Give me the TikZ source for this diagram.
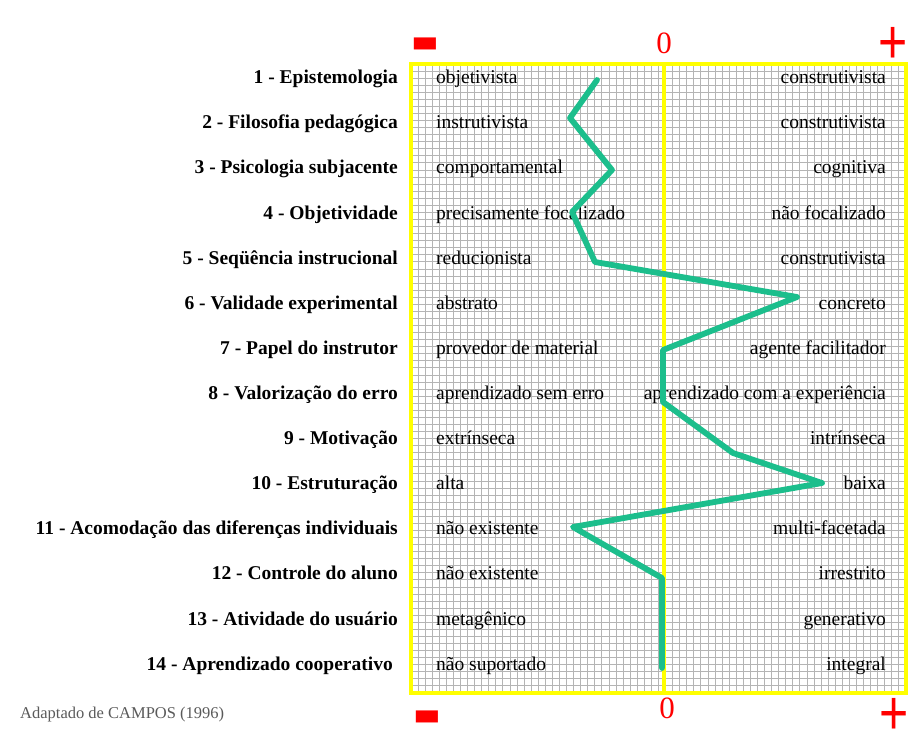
\documentclass[tikz,border=0pt]{standalone}
\usepackage{fontspec}
\setmainfont{Liberation Serif}
\newfontfamily\symfont{Liberation Sans}
\definecolor{curve}{RGB}{28,190,140}
\definecolor{gridc}{RGB}{180,180,180}
\definecolor{yel}{RGB}{255,255,0}
\definecolor{srcc}{RGB}{90,90,90}
\newcommand{\heavyminus}{\raisebox{-31.5pt}[9.5pt][0.5pt]{\scalebox{1}[2.5]{−}}}
\begin{document}
\begin{tikzpicture}[x=1pt,y=-1pt,
  lab/.style={anchor=mid east, inner sep=0pt, font=\fontsize{19.5}{20}\selectfont\bfseries},
  lefttxt/.style={anchor=mid west, inner sep=0pt, font=\fontsize{19.5}{20}\selectfont},
  righttxt/.style={anchor=mid east, inner sep=0pt, font=\fontsize{19.5}{20}\selectfont},
  redsym/.style={inner sep=0pt, text=red},
  gridline/.style={draw=gridc, line width=0.9pt},
  frame/.style={draw=yel, line width=3.5pt},
  zeroline/.style={draw=yel, line width=4pt},
  dataline/.style={draw=curve, line width=5.8pt, line join=round, line cap=round}]
\useasboundingbox[fill=white] (0,0) rectangle (909,747);
% grid
\foreach \i in {1,...,69} { \draw[gridline] ({411+\i*7.0714},64) -- ({411+\i*7.0714},693); }
\foreach \j in {1,...,88} { \draw[gridline] (411,{64+\j*7.0674}) -- (906,{64+\j*7.0674}); }
\draw[zeroline] (664,64) -- (664,693);
\draw[frame] (411,64) rectangle (906,693);
% red markers
\node[redsym, font=\symfont\fontsize{44}{44}\selectfont\bfseries] (mtop) at (425,44) {\heavyminus};
\node[redsym, font=\fontsize{31}{31}\selectfont] (ztop) at (664,43) {0};
\node[redsym, font=\symfont\fontsize{50}{50}\selectfont] (ptop) at (893,45) {\scalebox{1}[1.25]{+}};
\node[redsym, font=\symfont\fontsize{44}{44}\selectfont\bfseries] (mbot) at (427,717) {\heavyminus};
\node[redsym, font=\fontsize{31}{31}\selectfont] (zbot) at (667,708) {0};
\node[redsym, font=\symfont\fontsize{50}{50}\selectfont] (pbot) at (894,716) {\scalebox{1}[1.25]{+}};
% rows
\foreach \n/\a/\l/\r [count=\k] in {
 {1 - Epistemologia}/398/objetivista/construtivista,
 {2 - Filosofia pedagógica}/398/instrutivista/construtivista,
 {3 - Psicologia subjacente}/398/comportamental/cognitiva,
 {4 - Objetividade}/398/{precisamente focalizado}/{não focalizado},
 {5 - Seqüência instrucional}/398/reducionista/construtivista,
 {6 - Validade experimental}/398/abstrato/concreto,
 {7 - Papel do instrutor}/398/{provedor de material}/{agente facilitador},
 {8 - Valorização do erro}/398/{aprendizado sem erro}/{aprendizado com a experiência},
 {9 - Motivação}/398/extrínseca/intrínseca,
 {10 - Estruturação}/398/alta/baixa,
 {11 - Acomodação das diferenças individuais}/398/{não existente}/multi-facetada,
 {12 - Controle do aluno}/398/{não existente}/irrestrito,
 {13 - Atividade do usuário}/398/metagênico/generativo,
 {14 - Aprendizado cooperativo}/393/{não suportado}/integral} {
  \node[lab] (lab\k) at (\a,{81.5+(\k-1)*45.1}) {\n};
  \node[lefttxt] (neg\k) at (436,{81.5+(\k-1)*45.1}) {\l};
  \node[righttxt] (pos\k) at (886,{81.5+(\k-1)*45.1}) {\r};
}
% data curve
\coordinate (p1) at (597,80);
\coordinate (p2) at (570,118);
\coordinate (p3) at (612,170);
\coordinate (p4) at (572,212);
\coordinate (p5) at (595,262);
\coordinate (p6) at (797,297);
\coordinate (p7) at (663,350);
\coordinate (p8) at (663,402);
\coordinate (p9) at (733,453);
\coordinate (p10) at (822,483);
\coordinate (p11) at (573,527);
\coordinate (p12) at (662,578);
\coordinate (p13) at (662,620);
\coordinate (p14) at (662,668);
\draw[dataline] (p1) -- (p2) -- (p3) -- (p4) -- (p5) -- (p6) -- (p7) -- (p8) -- (p9) -- (p10) -- (p11) -- (p12) -- (p13) -- (p14);
% source
\node[anchor=mid west, inner sep=0pt, text=srcc, font=\fontsize{16.5}{17}\selectfont] (src) at (20,716) {Adaptado de CAMPOS (1996)};
\end{tikzpicture}
\end{document}
